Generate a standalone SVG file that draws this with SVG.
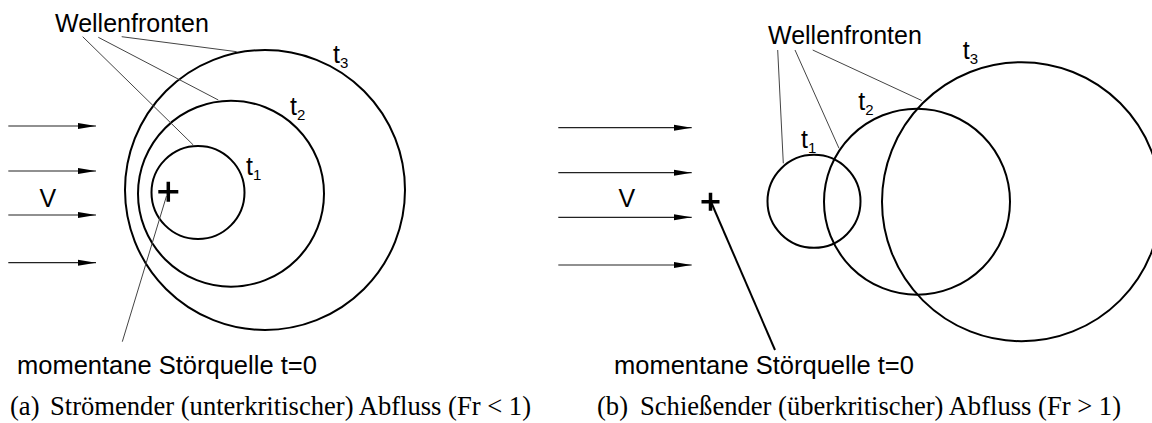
<svg xmlns="http://www.w3.org/2000/svg" width="1152" height="423" viewBox="0 0 1152 423">
<style>
.wave{fill:none;stroke:#000;stroke-width:2}
.src{fill:none;stroke:#000;stroke-width:3.5}
.lead{fill:none;stroke:#444;stroke-width:1}
.flow{fill:none;stroke:#222;stroke-width:1.2}
.lbl{font-family:"Liberation Sans",Arial,sans-serif;font-size:25px;fill:#000}
.sub{font-size:15px}
.cap{font-family:"Liberation Serif","Times New Roman",serif;font-size:26.6px;fill:#000}
</style>
<defs>
<marker id="ah" viewBox="0 0 18 7" refX="18" refY="3.5" markerWidth="18" markerHeight="7" markerUnits="userSpaceOnUse" orient="auto">
<path d="M0,0.5 L18,3.5 L0,6.5 Z" fill="#000"/>
</marker>
</defs>
<rect width="1152" height="423" fill="#fff"/>

<!-- Panel (a) -->
<g id="a-t3"><circle class="wave" cx="265" cy="190" r="140"/><text class="lbl" x="333" y="63">t<tspan class="sub" dy="5">3</tspan></text></g>
<g id="a-t2"><circle class="wave" cx="231" cy="193.7" r="93"/><text class="lbl" x="290" y="115">t<tspan class="sub" dy="5">2</tspan></text></g>
<g id="a-t1"><circle class="wave" cx="198" cy="192.5" r="46.5"/><text class="lbl" x="246" y="175">t<tspan class="sub" dy="5">1</tspan></text></g>
<g id="a-source"><path class="src" d="M158.3,191.7 H178.3 M168.3,181.7 V201.7"/></g>
<g id="a-wellenfronten"><text class="lbl" x="55" y="31.5">Wellenfronten</text></g>
<g id="a-v"><text class="lbl" x="39.5" y="206.5">V</text></g>
<g id="a-stoer"><text class="lbl" x="17" y="373.5" style="font-size:25.5px">momentane Störquelle t=0</text></g>
<g id="a-caption"><text class="cap" x="10" y="415">(a)<tspan x="50">Strömender (unterkritischer) Abfluss (Fr &lt; 1)</tspan></text></g>

<!-- Panel (b) -->
<g id="b-t1"><circle class="wave" cx="814" cy="201.3" r="46.5"/><text class="lbl" x="801" y="148.3">t<tspan class="sub" dy="5">1</tspan></text></g>
<g id="b-t2"><circle class="wave" cx="917" cy="201.7" r="93"/><text class="lbl" x="858.3" y="110">t<tspan class="sub" dy="5">2</tspan></text></g>
<g id="b-t3"><circle class="wave" cx="1021.5" cy="201.7" r="139.5"/><text class="lbl" x="962.7" y="59.3">t<tspan class="sub" dy="5">3</tspan></text></g>
<g id="b-source"><path class="src" d="M701.5,201.7 H719.5 M710.5,192.7 V210.7"/></g>
<g id="b-wellenfronten"><text class="lbl" x="768" y="44.3">Wellenfronten</text></g>
<g id="b-v"><text class="lbl" x="618.5" y="207.3">V</text></g>
<g id="b-stoer"><text class="lbl" x="614" y="374" style="font-size:25.5px">momentane Störquelle t=0</text></g>
<g id="b-caption"><text class="cap" x="597" y="415">(b)<tspan x="640">Schießender (überkritischer) Abfluss (Fr &gt; 1)</tspan></text></g>

<g id="connectors">
<line class="flow" x1="8.3" y1="126" x2="96" y2="126" marker-end="url(#ah)"/>
<line class="flow" x1="8.3" y1="171" x2="96" y2="171" marker-end="url(#ah)"/>
<line class="flow" x1="8.3" y1="215" x2="96" y2="215" marker-end="url(#ah)"/>
<line class="flow" x1="8.3" y1="262.7" x2="96" y2="262.7" marker-end="url(#ah)"/>
<line class="lead" x1="82.7" y1="36.7" x2="193.3" y2="145"/>
<line class="lead" x1="98.3" y1="37.3" x2="218.3" y2="100"/>
<line class="lead" x1="121.7" y1="36.7" x2="236.7" y2="51.7"/>
<line class="lead" x1="166.5" y1="196" x2="122.3" y2="341.7"/>

<line class="flow" x1="558.3" y1="127.7" x2="691.7" y2="127.7" marker-end="url(#ah)"/>
<line class="flow" x1="558.3" y1="172.7" x2="691.7" y2="172.7" marker-end="url(#ah)"/>
<line class="flow" x1="558.3" y1="217.3" x2="691.7" y2="217.3" marker-end="url(#ah)"/>
<line class="flow" x1="558.3" y1="265" x2="691.7" y2="265" marker-end="url(#ah)"/>
<line class="lead" x1="777.7" y1="50" x2="783.3" y2="163.3"/>
<line class="lead" x1="795" y1="50" x2="839" y2="148.3"/>
<line class="lead" x1="812.7" y1="50" x2="921.7" y2="100.5"/>
<line x1="711.5" y1="203" x2="775" y2="350" stroke="#000" stroke-width="2"/>
</g>
</svg>
